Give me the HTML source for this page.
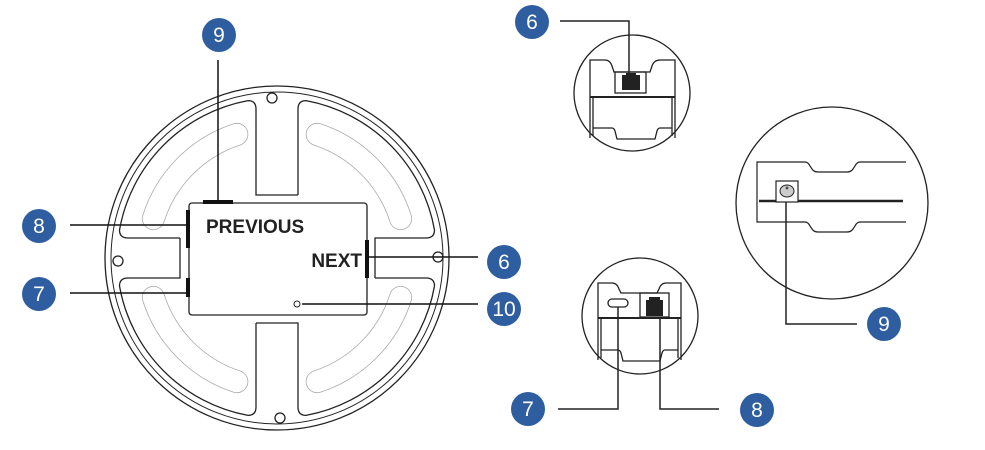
<!DOCTYPE html>
<html><head><meta charset="utf-8"><style>
html,body{margin:0;padding:0;background:#fff;}
svg{display:block;}
.n{font-family:"Liberation Sans",sans-serif;font-size:21px;fill:#fff;text-anchor:middle;}
</style></head><body>
<svg width="985" height="450" viewBox="0 0 985 450" xmlns="http://www.w3.org/2000/svg">
<g fill="none" stroke="#222" stroke-width="1.3">
  <circle cx="277" cy="258" r="172"/>
  <circle cx="277" cy="258" r="166" stroke-width="1"/>
</g>
<g transform="translate(277,258)" fill="none" stroke="#222" stroke-width="1.3">
  <path d="M -97 -20 L -149 -20 Q -157.5 -20 -157.5 -28 A160 160 0 0 1 -29 -157.4 Q -21 -157.4 -21 -149 L -21 -63 L 21 -63"/>
  <path d="M 21 -63 L 21 -149 Q 21 -157.4 29 -157.4 A160 160 0 0 1 157.5 -28 Q 157.5 -20 149 -20 L 98 -20 L 98 20"/>
  <path d="M 98 20 L 149 20 Q 157.5 20 157.5 28 A160 160 0 0 1 29 157.4 Q 21 157.4 21 149 L 21 65 L -21 65"/>
  <path d="M -21 65 L -21 149 Q -21 157.4 -29 157.4 A160 160 0 0 1 -157.5 28 Q -157.5 20 -149 20 L -97 20 L -97 -20"/>
</g>
<!-- slots -->
<g fill="none" stroke-linecap="round">
  <g stroke="#aaa" stroke-width="23">
    <path d="M153.4 218.6 A130 130 0 0 1 236.8 134.4"/>
    <path d="M317.2 134.4 A130 130 0 0 1 400.6 218.6"/>
    <path d="M153.4 297.4 A130 130 0 0 0 236.8 381.6"/>
    <path d="M317.2 381.6 A130 130 0 0 0 400.6 297.4"/>
  </g>
  <g stroke="#fff" stroke-width="21.4">
    <path d="M153.4 218.6 A130 130 0 0 1 236.8 134.4"/>
    <path d="M317.2 134.4 A130 130 0 0 1 400.6 218.6"/>
    <path d="M153.4 297.4 A130 130 0 0 0 236.8 381.6"/>
    <path d="M317.2 381.6 A130 130 0 0 0 400.6 297.4"/>
  </g>
</g>
<!-- holes -->
<g fill="#fff" stroke="#222" stroke-width="1.3">
  <circle cx="272" cy="98" r="5"/>
  <circle cx="118" cy="261" r="5"/>
  <circle cx="438" cy="257" r="5"/>
  <circle cx="280" cy="418" r="5"/>
</g>
<!-- center panel -->
<rect x="189" y="203" width="178" height="112" rx="3" fill="#fff" stroke="#222" stroke-width="1.3"/>
<text x="206" y="233" font-family="Liberation Sans,sans-serif" font-weight="bold" font-size="19" fill="#222">PREVIOUS</text>
<text x="362" y="267" text-anchor="end" font-family="Liberation Sans,sans-serif" font-weight="bold" font-size="19" fill="#222">NEXT</text>
<circle cx="297" cy="304" r="3" fill="#fff" stroke="#222" stroke-width="1"/>
<g fill="#111">
  <rect x="203" y="200" width="30" height="4"/>
  <rect x="186" y="210" width="4" height="38"/>
  <rect x="186" y="278" width="4" height="19"/>
  <rect x="365" y="240" width="4" height="38"/>
</g>
<g stroke="#111" stroke-width="1.5" fill="none">
  <line x1="218" y1="60" x2="218" y2="201"/>
  <line x1="70" y1="225" x2="188" y2="225"/>
  <line x1="70" y1="293" x2="188" y2="293"/>
  <line x1="368" y1="257" x2="478" y2="257"/>
  <line x1="302" y1="304" x2="478" y2="304"/>
</g>

<!-- top right detail -->
<circle cx="632" cy="93" r="58" fill="none" stroke="#222" stroke-width="1.3"/>
<g fill="none" stroke="#222" stroke-width="1.3">
  <path d="M590 138 L590 60 L605 60 Q610 60 612 66 L614 72 L650 72 L652 66 Q654 60 660 60 L675 60 L675 138"/>
  <path d="M593 97 L593 136 M672 97 L672 136"/>
  <line x1="590" y1="97" x2="675" y2="97" stroke-width="2"/>
  <path d="M593 128 L612 128 Q614 128 615 131 L617 139 L655 139 L657 131 Q658 128 660 128 L672 128"/>
  <rect x="615" y="72" width="31" height="21"/>
</g>
<rect x="622" y="75" width="18" height="15" fill="#222"/>
<rect x="626" y="73" width="10" height="3" fill="#222"/>
<polyline points="560,21 629,21 629,78" fill="none" stroke="#222" stroke-width="1.5"/>

<!-- middle right detail -->
<circle cx="640" cy="316" r="58" fill="none" stroke="#222" stroke-width="1.3"/>
<g fill="none" stroke="#222" stroke-width="1.3">
  <path d="M598 360 L598 283 L612 283 Q617 283 619 289 L621 293 L657 293 L659 289 Q661 283 666 283 L681 283 L681 360"/>
  <path d="M601 318 L601 358 M678 318 L678 358"/>
  <line x1="598" y1="318" x2="681" y2="318" stroke-width="2"/>
  <path d="M601 350 L618 350 Q620 350 621 353 L623 361 L660 361 L662 353 Q663 350 665 350 L678 350"/>
  <rect x="608" y="299" width="20" height="8" rx="4"/>
  <rect x="640" y="293" width="29" height="24"/>
</g>
<rect x="646" y="300" width="17" height="16" fill="#222"/>
<rect x="649" y="297" width="11" height="4" fill="#222"/>
<polyline points="558,409 618,409 618,307" fill="none" stroke="#222" stroke-width="1.5"/>
<polyline points="719,409 660,409 660,317" fill="none" stroke="#222" stroke-width="1.5"/>

<!-- far right detail -->
<circle cx="832" cy="203" r="96" fill="none" stroke="#222" stroke-width="1.3"/>
<g fill="none" stroke="#222" stroke-width="1.2">
  <path d="M906 162 L860 162 Q857 162 855 166 L853 169 Q851 172 847 172 L818 172 Q814 172 812 169 L810 166 Q808 162 805 162 L757 162 L757 222 L805 222 Q808 222 810 226 L812 229 Q814 232 818 232 L847 232 Q851 232 853 229 L855 226 Q857 222 860 222 L906 222"/>
  <line x1="759" y1="201" x2="903" y2="201" stroke-width="2.5"/>
  <rect x="776" y="181" width="22" height="21" fill="#fff"/>
</g>
<ellipse cx="787" cy="191" rx="7" ry="6" fill="#ccc" stroke="#222" stroke-width="1"/>
<circle cx="787" cy="188" r="1.5" fill="#555"/>
<polyline points="786,202 786,324 857,324" fill="none" stroke="#222" stroke-width="1.5"/>

<!-- badges -->
<g fill="#2e5e9f">
  <circle cx="219" cy="35" r="17"/>
  <circle cx="39" cy="226" r="17"/>
  <circle cx="39" cy="294" r="17"/>
  <circle cx="504" cy="262" r="17"/>
  <circle cx="504" cy="309" r="17"/>
  <circle cx="532" cy="22" r="17"/>
  <circle cx="884" cy="324" r="17"/>
  <circle cx="528" cy="409" r="17"/>
  <circle cx="757" cy="410" r="17"/>
</g>
<text class="n" x="219" y="42">9</text>
<text class="n" x="39" y="233">8</text>
<text class="n" x="39" y="301">7</text>
<text class="n" x="504" y="269">6</text>
<text class="n" x="504" y="316">10</text>
<text class="n" x="532" y="29">6</text>
<text class="n" x="884" y="331">9</text>
<text class="n" x="528" y="416">7</text>
<text class="n" x="757" y="417">8</text>
</svg>
</body></html>
